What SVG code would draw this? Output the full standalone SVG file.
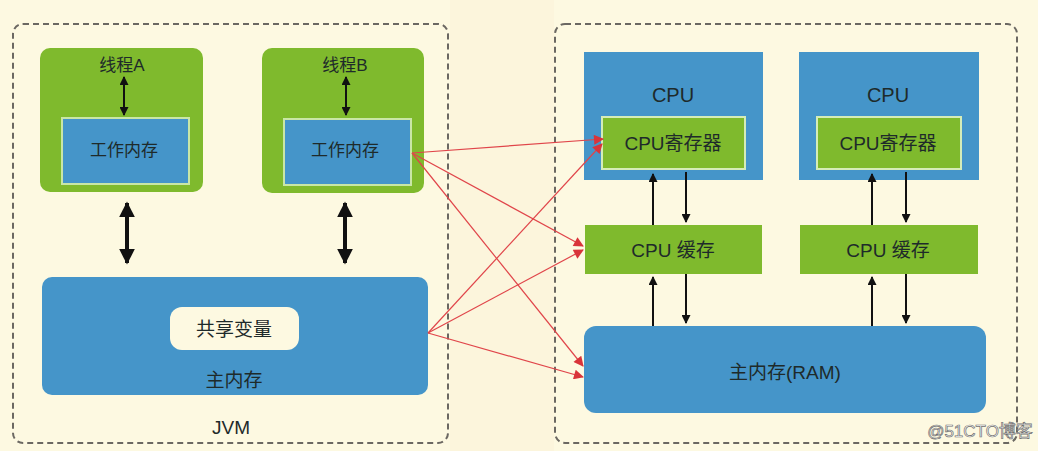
<svg xmlns="http://www.w3.org/2000/svg" width="1038" height="451" viewBox="0 0 1038 451">
<defs>
<style>
.bg{fill:#fdf9e1}
.dash{fill:none;stroke:#6b6862;stroke-width:2;stroke-dasharray:6 4}
.green{fill:#7fba2d}
.blue{fill:#4595c9}
.inb{fill:#4595c9;stroke:#c9e6a6;stroke-width:2}
.ing{fill:#7fba2d;stroke:#d5ecb8;stroke-width:2}
.t{font-family:"Liberation Sans","Noto Sans CJK SC",sans-serif;fill:#1e2a2a;text-anchor:middle;dominant-baseline:central}
.blk{stroke:#111;stroke-width:2;fill:none}
.thick{stroke:#111;stroke-width:4;fill:none}
.red{stroke:#e0454a;stroke-width:1.2;fill:none;marker-end:url(#ra)}
</style>
<marker id="ra" viewBox="0 0 10 10" refX="9" refY="5" markerWidth="14" markerHeight="10" markerUnits="userSpaceOnUse" orient="auto"><path d="M0,0 L10,5 L0,10 Z" fill="#d9343a"/></marker>
<marker id="ba" viewBox="0 0 10 10" refX="9" refY="5" markerWidth="10" markerHeight="9" markerUnits="userSpaceOnUse" orient="auto-start-reverse"><path d="M0,0 L10,5 L0,10 Z" fill="#111"/></marker>
<marker id="bb" viewBox="0 0 10 10" refX="9" refY="5" markerWidth="16" markerHeight="16" markerUnits="userSpaceOnUse" orient="auto-start-reverse"><path d="M0,0 L10,5 L0,10 Z" fill="#111"/></marker>
</defs>
<rect class="bg" x="0" y="0" width="1038" height="451"/>
<rect x="450" y="0" width="104" height="451" fill="#fcf5dc"/>
<g id="jvm">
<rect class="dash" x="13" y="24" width="435" height="419" rx="10"/>
<text class="t" x="231" y="427" font-size="19">JVM</text>
</g>
<g id="cpu-area">
<rect class="dash" x="555" y="24" width="462" height="419" rx="10"/>
</g>
<g id="threadA">
<rect class="green" x="40" y="48" width="163" height="144" rx="10"/>
<text class="t" x="122" y="65" font-size="17">线程A</text>
<rect class="inb" x="62" y="118" width="127" height="66"/>
<text class="t" x="124" y="150" font-size="17">工作内存</text>
</g>
<g id="threadB">
<rect class="green" x="262" y="48" width="162" height="145" rx="10"/>
<text class="t" x="345" y="65" font-size="17">线程B</text>
<rect class="inb" x="284" y="119" width="127" height="66"/>
<text class="t" x="345" y="150" font-size="17">工作内存</text>
</g>
<g id="mainmem">
<rect class="blue" x="42" y="277" width="386" height="118" rx="10"/>
<rect x="170" y="307" width="129" height="43" rx="12" fill="#fdf9e1"/>
<text class="t" x="234" y="329" font-size="19">共享变量</text>
<text class="t" x="234" y="380" font-size="19">主内存</text>
</g>
<g id="cpu1">
<rect class="blue" x="584" y="52" width="179" height="128"/>
<text class="t" x="673" y="95" font-size="20">CPU</text>
<rect class="ing" x="602" y="117" width="143" height="52"/>
<text class="t" x="673" y="143" font-size="19">CPU寄存器</text>
</g>
<g id="cpu2">
<rect class="blue" x="799" y="52" width="180" height="128"/>
<text class="t" x="888" y="95" font-size="20">CPU</text>
<rect class="ing" x="817" y="117" width="144" height="52"/>
<text class="t" x="888" y="143" font-size="19">CPU寄存器</text>
</g>
<g id="cache1">
<rect class="green" x="585" y="225" width="177" height="49"/>
<text class="t" x="673" y="250" font-size="19">CPU 缓存</text>
</g>
<g id="cache2">
<rect class="green" x="800" y="225" width="178" height="49"/>
<text class="t" x="888" y="250" font-size="19">CPU 缓存</text>
</g>
<g id="ram">
<rect class="blue" x="584" y="326" width="402" height="87" rx="12"/>
<text class="t" x="785" y="372" font-size="19">主内存(RAM)</text>
</g>
<g id="connectors">
<line class="blk" x1="124" y1="77" x2="124" y2="115" marker-start="url(#ba)" marker-end="url(#ba)"/>
<line class="blk" x1="346" y1="77" x2="346" y2="115" marker-start="url(#ba)" marker-end="url(#ba)"/>
<line class="thick" x1="127" y1="203" x2="127" y2="263" marker-start="url(#bb)" marker-end="url(#bb)"/>
<line class="thick" x1="345" y1="203" x2="345" y2="263" marker-start="url(#bb)" marker-end="url(#bb)"/>
<line class="blk" x1="653" y1="225" x2="653" y2="174" marker-end="url(#ba)"/>
<line class="blk" x1="686" y1="172" x2="686" y2="222" marker-end="url(#ba)"/>
<line class="blk" x1="653" y1="326" x2="653" y2="277" marker-end="url(#ba)"/>
<line class="blk" x1="686" y1="274" x2="686" y2="323" marker-end="url(#ba)"/>
<line class="blk" x1="872" y1="225" x2="872" y2="174" marker-end="url(#ba)"/>
<line class="blk" x1="906" y1="172" x2="906" y2="222" marker-end="url(#ba)"/>
<line class="blk" x1="872" y1="326" x2="872" y2="277" marker-end="url(#ba)"/>
<line class="blk" x1="906" y1="274" x2="906" y2="323" marker-end="url(#ba)"/>
<line class="red" x1="412" y1="153" x2="603" y2="139"/>
<line class="red" x1="412" y1="153" x2="583" y2="246"/>
<line class="red" x1="412" y1="153" x2="583" y2="366"/>
<line class="red" x1="428" y1="333" x2="602" y2="144"/>
<line class="red" x1="428" y1="333" x2="583" y2="250"/>
<line class="red" x1="428" y1="333" x2="583" y2="377"/>
</g>
<text x="980" y="437" font-family="Liberation Sans,Noto Sans CJK SC,sans-serif" font-size="17" text-anchor="middle" fill="#ffffff" stroke="#707070" stroke-width="0.7">@51CTO博客</text>
</svg>
